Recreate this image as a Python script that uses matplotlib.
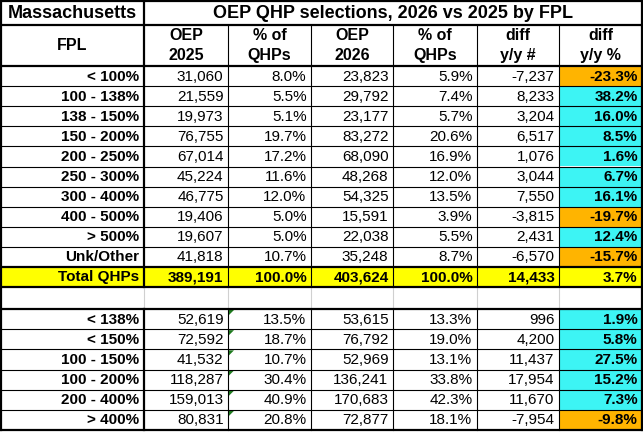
import matplotlib.pyplot as plt
from matplotlib.patches import Rectangle, Polygon

plt.rcParams['font.family'] = ['Liberation Sans', 'DejaVu Sans']

labels_top = ['< 100%', '100 - 138%', '138 - 150%', '150 - 200%', '200 - 250%',
              '250 - 300%', '300 - 400%', '400 - 500%', '> 500%', 'Unk/Other']
oep2025_top = [31060, 21559, 19973, 76755, 67014, 45224, 46775, 19406, 19607, 41818]
pct2025_top = [8.0, 5.5, 5.1, 19.7, 17.2, 11.6, 12.0, 5.0, 5.0, 10.7]
oep2026_top = [23823, 29792, 23177, 83272, 68090, 48268, 54325, 15591, 22038, 35248]
pct2026_top = [5.9, 7.4, 5.7, 20.6, 16.9, 12.0, 13.5, 3.9, 5.5, 8.7]
diff_top = [-7237, 8233, 3204, 6517, 1076, 3044, 7550, -3815, 2431, -6570]
diffpct_top = [-23.3, 38.2, 16.0, 8.5, 1.6, 6.7, 16.1, -19.7, 12.4, -15.7]

total_row = ['Total QHPs', 389191, 100.0, 403624, 100.0, 14433, 3.7]

labels_low = ['< 138%', '< 150%', '100 - 150%', '100 - 200%', '200 - 400%', '> 400%']
oep2025_low = [52619, 72592, 41532, 118287, 159013, 80831]
pct2025_low = [13.5, 18.7, 10.7, 30.4, 40.9, 20.8]
oep2026_low = [53615, 76792, 52969, 136241, 170683, 72877]
pct2026_low = [13.3, 19.0, 13.1, 33.8, 42.3, 18.1]
diff_low = [996, 4200, 11437, 17954, 11670, -7954]
diffpct_low = [1.9, 5.8, 27.5, 15.2, 7.3, -9.8]

headers = [('FPL',), ('OEP', '2025'), ('% of', 'QHPs'), ('OEP', '2026'),
           ('% of', 'QHPs'), ('diff', 'y/y #'), ('diff', 'y/y %')]

ORANGE = '#FFB400'
CYAN = '#3DF4F4'
YELLOW = '#FFFF00'
GREY = '#D0D0D0'

# layout in pixels
xs = [1, 144, 228, 311, 393, 477, 559, 642]
y_title = (1, 24.5)
y_head = (24.5, 66)
top_rows = [66 + i * 20.1 for i in range(11)]
y_total = (267, 287)
y_blank = (287, 309)
low_rows = [309 + i * 20.17 for i in range(7)]

fig = plt.figure(figsize=(6.43, 4.32), dpi=100)
ax = fig.add_axes([0, 0, 1, 1])
ax.set_xlim(0, 643)
ax.set_ylim(432, 0)
ax.axis('off')

THIN = 0.8
THICK = 1.6
PAD = 4.5


def hline(y, x0, x1, lw, color='black'):
    ax.plot([x0, x1], [y, y], color=color, lw=lw, solid_capstyle='projecting')


def vline(x, y0, y1, lw, color='black'):
    ax.plot([x, x], [y0, y1], color=color, lw=lw, solid_capstyle='projecting')


def fill(x0, x1, y0, y1, color):
    ax.add_patch(Rectangle((x0, y0), x1 - x0, y1 - y0, facecolor=color, edgecolor='none', zorder=0))


def fmt_n(v):
    return f'{v:,}'


def fmt_p(v):
    return f'{v:.1f}%'


def draw_row(y0, y1, values, bold_all=False, green=False):
    yc = (y0 + y1) / 2 + 0.5
    label, n25, p25, n26, p26, dn, dp = values
    texts = [label, fmt_n(n25), fmt_p(p25), fmt_n(n26), fmt_p(p26), fmt_n(dn), fmt_p(dp)]
    for c, t in enumerate(texts):
        bold = bold_all or c == 0 or c == 6
        ax.text(xs[c + 1] - PAD, yc, t, ha='right', va='center', fontsize=11,
                fontweight='bold' if bold else 'normal', color='black')
    if green:
        x = xs[2] + 1
        ax.add_patch(Polygon([[x, y0 + 1], [x + 5, y0 + 1], [x, y0 + 6]],
                             closed=True, facecolor='#1E7B1E', edgecolor='none'))


# title row
ax.text(8, sum(y_title) / 2 + 0.5, 'Massachusetts', ha='left', va='center',
        fontsize=13, fontweight='bold')
ax.text((xs[1] + xs[-1]) / 2, sum(y_title) / 2 + 0.5,
        'OEP QHP selections, 2026 vs 2025 by FPL', ha='center', va='center',
        fontsize=13, fontweight='bold')

# header row
for c, h in enumerate(headers):
    xc = (xs[c] + xs[c + 1]) / 2
    if len(h) == 1:
        ax.text(xc, 45.5, h[0], ha='center', va='center', fontsize=11.5, fontweight='bold')
    else:
        ax.text(xc, 35.5, h[0], ha='center', va='center', fontsize=11.5, fontweight='bold')
        ax.text(xc, 55.5, h[1], ha='center', va='center', fontsize=11.5, fontweight='bold')

# top block
for i in range(len(labels_top)):
    y0, y1 = top_rows[i], top_rows[i + 1]
    fill(xs[6], xs[7], y0, y1, ORANGE if diffpct_top[i] < 0 else CYAN)
    draw_row(y0, y1, [labels_top[i], oep2025_top[i], pct2025_top[i], oep2026_top[i],
                      pct2026_top[i], diff_top[i], diffpct_top[i]])
    if i > 0:
        hline(y0, xs[0], xs[-1], THIN)

# total row
fill(xs[0], xs[-1], y_total[0], y_total[1], YELLOW)
draw_row(y_total[0], y_total[1], total_row, bold_all=True)

# lower block
for i in range(len(labels_low)):
    y0, y1 = low_rows[i], low_rows[i + 1]
    fill(xs[6], xs[7], y0, y1, ORANGE if diffpct_low[i] < 0 else CYAN)
    draw_row(y0, y1, [labels_low[i], oep2025_low[i], pct2025_low[i], oep2026_low[i],
                      pct2026_low[i], diff_low[i], diffpct_low[i]], green=True)
    if i > 0:
        hline(y0, xs[0], xs[-1], THIN)

# vertical lines
for c in range(2, 7):
    vline(xs[c], y_head[0], y_total[1], THIN)
    vline(xs[c], low_rows[0], low_rows[-1], THIN)
    vline(xs[c], y_blank[0], y_blank[1], THIN, GREY)
vline(xs[1], y_title[0], y_blank[0], THICK)
vline(xs[1], y_blank[0], y_blank[1], THIN, GREY)
vline(xs[1], low_rows[0], low_rows[-1], THICK)
vline(xs[0], y_title[0], low_rows[-1], THICK)
vline(xs[-1], y_title[0], low_rows[-1], THICK)

# thick horizontals
for y in [y_title[0], y_title[1], y_head[1], y_total[0], y_total[1], low_rows[0], low_rows[-1]]:
    hline(y, xs[0], xs[-1], THICK)

fig.savefig('out.png', dpi=100)
